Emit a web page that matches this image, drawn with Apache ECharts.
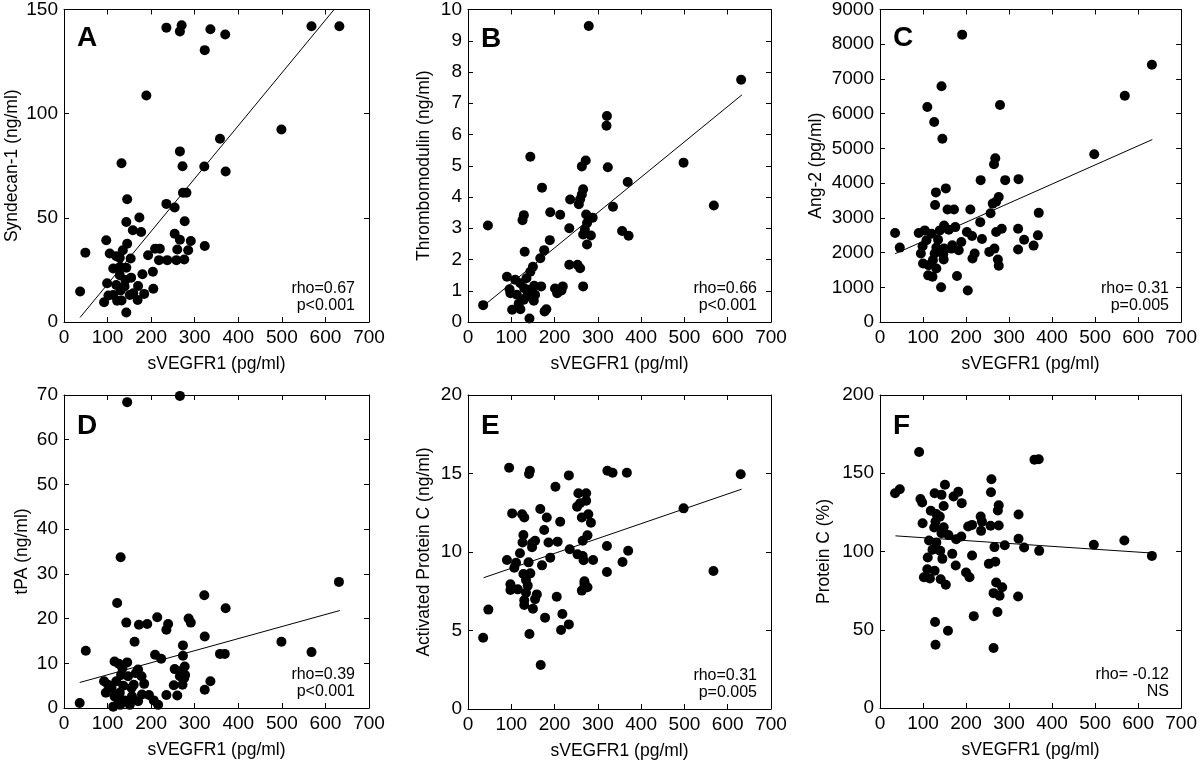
<!DOCTYPE html>
<html>
<head>
<meta charset="utf-8">
<script src="https://cdn.jsdelivr.net/npm/echarts@6/dist/echarts.min.js"></script>
<style>
  html, body { margin: 0; padding: 0; background: #fff; }
  #chart { width: 1200px; height: 765px; }
</style>
</head>
<body>
<div id="chart"></div>
<script>
// sVEGFR1 (pg/ml) vs. marker
const ptsA = [
  [235,141.3],[270,142.4],[266,139.5],[336,140.5],[370,138],[323,130.5],[568,142],[632,142],
  [189,108.7],[499,92.4],[358,88],[266,81.9],[132,76.2],[272,74.8],[322,74.6],[371,72.2],
  [273,62],[281,62],[145,58.9],[235,56.7],[254,55],[173,50.2],[143,48],[277,48.4],
  [158,44],[177,43.2],[254,42.4],[266,39.5],[97,39.2],[291,38.9],[145,37.6],[135,34.4],
  [323,36.5],[260,34.8],[285,34.4],[49,33.3],[105,32.9],[120,31.6],[193,32],[209,35.2],
  [220,35.2],[153,30.5],[218,29.7],[237,29.7],[258,29.7],[276,30],[128,30.8],[113,25.7],
  [129,26.5],[143,26],[204,24.1],[128,22.5],[154,21.3],[180,22.9],[141,20.2],[99,18.6],
  [120,17.8],[139,17],[170,17.3],[205,16],[130,15.1],[159,13.8],[37,14.6],[102,12.7],
  [151,13],[184,13.5],[169,10.6],[92,9.5],[122,10.2],[132,10.3],[143,4.6],[113,13]
];
const ptsB = [
  [279,9.47],[631,7.75],[321,6.59],[320,6.28],[498,5.1],[144,5.29],[272,5.17],[263,4.98],
  [323,4.95],[369,4.48],[171,4.3],[568,3.73],[335,3.69],[266,4.25],[263,4.08],[259,3.93],
  [236,3.92],[256,3.77],[190,3.51],[129,3.42],[126,3.26],[213,3.43],[273,3.44],[288,3.34],
  [46,3.09],[234,3.0],[275,3.17],[270,2.96],[356,2.91],[371,2.76],[266,2.8],[284,2.77],
  [275,2.48],[189,2.62],[176,2.3],[131,2.25],[167,2.04],[150,1.77],[234,1.83],[253,1.83],
  [259,1.72],[144,1.61],[135,1.4],[90,1.45],[109,1.35],[266,1.14],[219,1.14],[169,1.14],
  [153,1.16],[201,1.07],[216,1.01],[206,0.92],[96,1.05],[121,1.24],[130,1.08],[98,0.92],
  [140,1.03],[148,0.92],[136,0.82],[152,0.68],[129,0.71],[117,0.58],[35,0.54],[102,0.39],
  [121,0.41],[181,0.41],[177,0.34],[142,0.11],[155,0.87],[113,0.87]
];
const ptsC = [
  [191,8276],[632,7410],[143,6790],[569,6514],[110,6190],[279,6248],[126,5762],[145,5276],
  [498,4829],[268,4714],[265,4543],[234,4086],[291,4086],[322,4114],[153,3848],[130,3733],
  [276,3600],[270,3467],[262,3410],[128,3371],[157,3238],[172,3238],[210,3238],[257,3133],
  [369,3143],[233,2876],[149,2781],[175,2733],[35,2562],[90,2562],[104,2638],[120,2543],
  [139,2638],[160,2657],[202,2590],[214,2476],[283,2686],[270,2590],[321,2686],[367,2495],
  [237,2390],[335,2371],[108,2352],[135,2371],[46,2143],[99,2181],[168,2210],[189,2305],
  [131,2143],[149,2114],[166,2114],[183,2067],[254,2019],[266,2114],[357,2200],[321,2086],
  [147,1952],[95,1971],[127,1971],[220,1971],[215,1829],[274,1800],[100,1686],[113,1638],
  [131,1543],[276,1619],[123,1781],[148,1800],[112,1343],[122,1305],[179,1324],[142,1000],
  [204,905]
];
const ptsD = [
  [266,69.8],[145,68.4],[130,33.7],[631,28.2],[322,25.2],[122,23.5],[371,22.3],[214,20.3],
  [286,20.0],[291,19.1],[143,19.1],[172,18.6],[191,18.8],[239,18.8],[235,17.5],[162,14.8],
  [499,14.8],[273,14.0],[568,12.5],[358,12.1],[369,12.1],[323,16.0],[209,11.9],[273,11.7],
  [223,11.0],[116,10.4],[145,10.2],[126,9.9],[134,8.9],[170,8.6],[254,8.7],[277,9.3],
  [266,8.2],[178,7.1],[50,12.8],[278,7.4],[266,7.1],[131,7.4],[147,7.1],[120,6.0],
  [92,6.0],[184,5.4],[160,5.2],[336,6.0],[101,5.2],[136,5.0],[252,5.1],[272,5.2],
  [155,4.5],[109,4.5],[323,4.1],[96,3.4],[128,3.4],[116,2.6],[235,2.9],[260,2.8],
  [156,2.6],[179,3.0],[195,2.9],[206,1.7],[170,1.5],[139,1.7],[124,1.9],[216,0.7],
  [151,0.7],[113,0.3],[129,0.7],[36,1.1],[276,6.7],[165,7.8]
];
const ptsE = [
  [95,15.37],[143,15.18],[141,14.97],[233,14.88],[322,15.18],[334,15.05],[367,15.05],[630,14.95],
  [202,14.16],[255,13.74],[273,13.74],[273,13.27],[259,13.1],[252,12.89],[498,12.78],[167,12.74],
  [102,12.46],[125,12.4],[130,12.2],[278,12.4],[263,12.2],[182,12.2],[213,11.93],[284,11.87],
  [176,11.4],[276,11.06],[128,11.08],[265,10.72],[155,10.72],[207,10.66],[186,10.6],[126,10.6],
  [148,10.55],[148,10.3],[235,10.17],[321,10.38],[370,10.08],[120,9.92],[253,9.85],[265,9.75],
  [190,9.64],[90,9.49],[140,9.34],[111,9.32],[289,9.49],[267,9.47],[357,9.36],[171,9.15],
  [107,9.0],[128,8.6],[144,8.64],[321,8.73],[567,8.79],[134,8.22],[269,8.13],[269,7.96],
  [98,7.94],[138,7.86],[276,7.75],[263,7.54],[98,7.58],[115,7.62],[159,7.3],[134,7.41],
  [205,7.15],[130,6.92],[155,7.0],[130,6.62],[150,6.39],[47,6.33],[218,6.05],[178,5.82],
  [233,5.39],[215,5.03],[35,4.54],[142,4.78],[168,2.8]
];
const ptsF = [
  [91,163.6],[359,158.7],[369,158.9],[35,137.2],[46,139.8],[259,146.2],[151,142.6],[258,137.9],
  [127,137.2],[143,136.2],[182,138.1],[171,135.1],[94,133.6],[98,131.3],[190,130.9],[148,129.1],
  [276,129.6],[274,126.2],[118,126.0],[131,124.0],[322,123.6],[139,122.3],[234,122.3],[237,119.1],
  [129,119.1],[99,118.1],[214,117.0],[205,116.0],[257,116.4],[276,116.6],[235,113.2],[126,115.3],
  [148,115.5],[159,110.6],[143,111.7],[189,109.6],[114,107.0],[177,107.9],[322,108.1],[131,105.7],
  [497,104.3],[568,107.0],[290,104.0],[335,102.6],[266,102.8],[122,101.1],[140,100.4],[370,100.4],
  [632,97.2],[168,98.5],[214,97.4],[111,96.2],[145,95.3],[268,93.4],[253,92.1],[176,91.1],
  [110,88.7],[127,87.7],[200,86.6],[102,83.6],[116,82.8],[208,83.6],[141,82.3],[270,80.2],
  [153,78.7],[284,77.2],[264,73.4],[278,71.7],[321,71.3],[273,61.3],[218,58.7],[128,54.9],
  [158,49.4],[129,40.4],[264,38.3]
];

// regression line end points
const fitA = [[37,2.2],[620,150]];
const fitB = [[38,0.54],[633,7.27]];
const fitC = [[35,1965],[633,5255]];
const fitD = [[36,5.7],[633,21.8]];
const fitE = [[36,8.36],[632,14.0]];
const fitF = [[36,110],[633,99]];

const letters = ["A", "B", "C", "D", "E", "F"];
const yNames = ["Syndecan-1 (ng/ml)", "Thrombomodulin (ng/ml)", "Ang-2 (pg/ml)",
  "tPA (ng/ml)", "Activated Protein C (ng/ml)", "Protein C (%)"];
const yMax = [150, 10, 9000, 70, 20, 200];
const yStep = [50, 1, 1000, 10, 5, 50];
const stats = [["rho=0.67", "p<0.001"], ["rho=0.66", "p<0.001"], ["rho= 0.31", "p=0.005"],
  ["rho=0.39", "p<0.001"], ["rho=0.31", "p=0.005"], ["rho= -0.12", "NS"]];
const xName = "sVEGFR1 (pg/ml)";
const xMax = 700, xStep = 100;

const pts = [ptsA, ptsB, ptsC, ptsD, ptsE, ptsF];
const fits = [fitA, fitB, fitC, fitD, fitE, fitF];

// layout
const grids = [
  { left: 64, top: 7, width: 305, height: 315 },
  { left: 468, top: 8, width: 303, height: 314 },
  { left: 880, top: 7, width: 303, height: 315 },
  { left: 64, top: 395, width: 305, height: 313 },
  { left: 468, top: 395, width: 303, height: 314 },
  { left: 880, top: 395, width: 303, height: 313 }
];
const yGaps = [43, 35, 55, 33, 35, 47];

const FONT = "Liberation Sans, Arial, sans-serif";
const line = { show: true, onZero: false, lineStyle: { color: "#000", width: 1 } };
const tick = { show: true, inside: true, length: 5, lineStyle: { color: "#000", width: 1 } };

const chart = echarts.init(document.getElementById("chart"));
const xAxis = [], yAxis = [], series = [], graphic = [];

grids.forEach((g, i) => {
  // bottom + top x axes
  xAxis.push({
    type: "value", gridIndex: i, min: 0, max: xMax, interval: xStep, position: "bottom",
    axisLine: line, axisTick: tick, splitLine: { show: false },
    axisLabel: { color: "#000", fontSize: 19, fontFamily: FONT, margin: 6 },
    name: xName, nameLocation: "middle", nameGap: 33,
    nameTextStyle: { color: "#000", fontSize: 17.5, fontFamily: FONT }
  });
  xAxis.push({
    type: "value", gridIndex: i, min: 0, max: xMax, interval: xStep, position: "top",
    axisLine: line, axisTick: tick, axisLabel: { show: false }, splitLine: { show: false }
  });
  // left + right y axes
  yAxis.push({
    type: "value", gridIndex: i, min: 0, max: yMax[i], interval: yStep[i], position: "left",
    axisLine: line, axisTick: tick, splitLine: { show: false },
    axisLabel: { color: "#000", fontSize: 19, fontFamily: FONT, margin: 6,
      formatter: v => String(v) },
    name: yNames[i], nameLocation: "middle", nameGap: yGaps[i],
    nameTextStyle: { color: "#000", fontSize: 17.5, fontFamily: FONT }
  });
  yAxis.push({
    type: "value", gridIndex: i, min: 0, max: yMax[i], interval: yStep[i], position: "right",
    axisLine: line, axisTick: tick, axisLabel: { show: false }, splitLine: { show: false }
  });

  series.push({
    type: "scatter", xAxisIndex: 2 * i, yAxisIndex: 2 * i, data: pts[i],
    symbolSize: 10, itemStyle: { color: "#000", opacity: 1 }, silent: true
  });
  series.push({
    type: "line", xAxisIndex: 2 * i, yAxisIndex: 2 * i, data: fits[i],
    showSymbol: false, symbol: "none", lineStyle: { color: "#000", width: 1 },
    silent: true, z: 1
  });

  graphic.push({
    type: "text", left: g.left + 13, top: g.top + 17,
    style: { text: letters[i], font: "bold 28px " + FONT, fill: "#000" }
  });
  stats[i].forEach((s, k) => {
    graphic.push({
      type: "text", x: g.left + g.width - 14, y: g.top + g.height - 33 + k * 17,
      style: { text: s, font: "16px " + FONT, fill: "#000",
        align: "right", verticalAlign: "middle" }
    });
  });
});

chart.setOption({
  animation: false,
  backgroundColor: "#fff",
  grid: grids,
  xAxis: xAxis,
  yAxis: yAxis,
  series: series,
  graphic: graphic
});
</script>
</body>
</html>
